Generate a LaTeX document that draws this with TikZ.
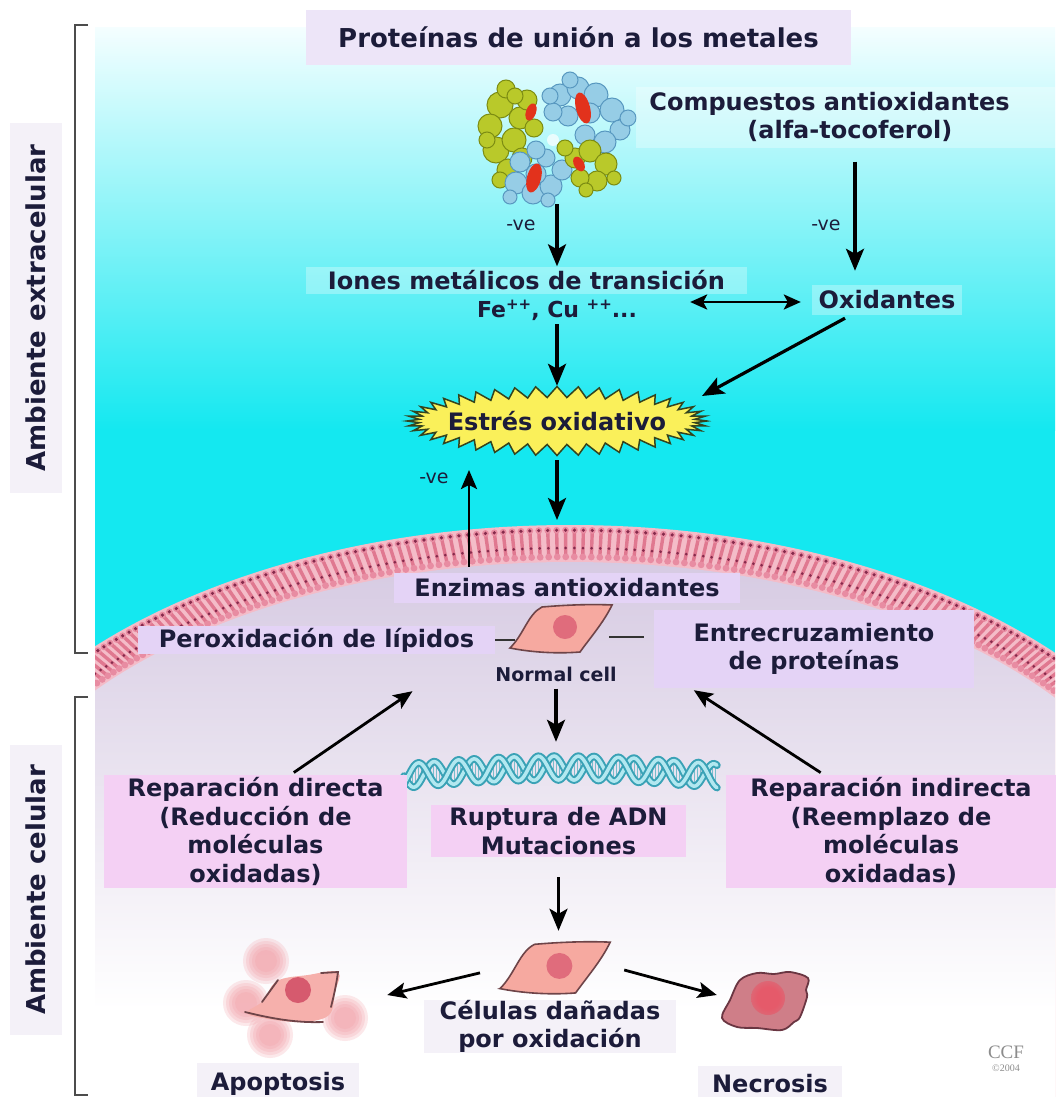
\documentclass[tikz,border=0pt]{standalone}
\usepackage{fontspec}
\setmainfont{DejaVu Sans}
\newfontfamily\serf{Liberation Serif}
\usetikzlibrary{arrows.meta,calc,shapes.geometric}

\definecolor{ink}{HTML}{1C1C3A}
\definecolor{cyanbg}{HTML}{14E8F0}
\definecolor{cyantop}{HTML}{F4FEFF}
\definecolor{lav}{HTML}{D6CAE2}
\definecolor{boxlav}{HTML}{E4D3F6}
\definecolor{boxpink}{HTML}{F4D0F4}
\definecolor{titlebox}{HTML}{EDE5F8}
\definecolor{faintbox}{HTML}{F4F1F8}
\definecolor{membpink}{HTML}{F4BCC8}
\definecolor{lipid}{HTML}{E07890}
\definecolor{headpink}{HTML}{E88CA2}
\definecolor{lipidhead}{HTML}{862A4C}
\definecolor{cellfill}{HTML}{F6A9A0}
\definecolor{celledge}{HTML}{6E4448}
\definecolor{nucleus}{HTML}{E06C7C}
\definecolor{starfill}{HTML}{FAF05A}
\definecolor{staredge}{HTML}{34441E}
\definecolor{protY}{HTML}{B9C92A}
\definecolor{protYe}{HTML}{7C8C12}
\definecolor{protB}{HTML}{96CDE6}
\definecolor{protBe}{HTML}{5898C0}
\definecolor{protR}{HTML}{E2321C}
\definecolor{dnaE}{HTML}{3AA2B6}
\definecolor{dnaF}{HTML}{B2E8F0}
\definecolor{apop}{HTML}{F29AA2}
\definecolor{apopbody}{HTML}{F6B0AC}
\definecolor{apopnuc}{HTML}{D65A6E}
\definecolor{necro}{HTML}{CF7E88}
\definecolor{necroE}{HTML}{6A3642}
\definecolor{necnucC}{HTML}{E55A6A}

\pgfdeclareradialshading{necnuc}{\pgfpoint{0bp}{0bp}}{color(0bp)=(necnucC); color(16bp)=(necnucC); color(42bp)=(necro); color(50bp)=(necro)}

\newcommand\pplus{\raisebox{8pt}{\fontsize{15}{15}\selectfont ++}}

\tikzset{
  normcell/.pic={
    \draw[fill=cellfill, draw=celledge, line width=1.6pt]
      (-50,20) .. controls (-36,6) and (-32,-14) .. (-18,-21)
      .. controls (5,-23) and (30,-24) .. (52,-23)
      .. controls (44,-6) and (30,10) .. (20,24)
      .. controls (-5,26) and (-30,24) .. cycle;
    \fill[nucleus] (5,-1) circle[radius=12];
  },
  apopcell/.pic={
    % soft blebs budding off the dying cell
    \foreach \bx/\by in {-27/-36, -47/6, 52/21, -23/38}
      \foreach \rr in {23,20,17,14,11}
        \fill[apop, opacity=0.22] (\bx,\by) circle[radius=\rr];
    \fill[apopbody] plot[smooth cycle, tension=0.6] coordinates
      {(-46,16) (-30,4) (-16,-16) (15,-22) (45,-25) (42,-5) (36,18) (10,25) (-25,22)};
    \draw[celledge, line width=1.8pt, line cap=round] (-31,5) -- (-15,-17);
    \draw[celledge, line width=1.8pt, line cap=round] (28,-24) -- (45,-25) .. controls (43,-10) and (40,2) .. (38,10);
    \draw[celledge, line width=1.8pt, line cap=round] (-48,15) .. controls (-20,22) and (5,26) .. (30,25);
    \fill[apopnuc] (5,-7) circle[radius=13];
  },
  necrocell/.pic={
    \draw[fill=necro, draw=necroE, line width=1.8pt] plot[smooth cycle, tension=0.55] coordinates
      {(-44,18) (-36,0) (-26,-20) (-9,-27) (8,-26) (24,-28) (42,-22) (40,-10) (41,-3) (34,17) (28,22) (16,30) (-9,28) (-29,27)};
    \shade[shading=necnuc] (2,-2) circle[radius=17];
  }
}

\begin{document}
\begin{tikzpicture}[x=1pt,y=-1pt,
  lbl/.style={font=\fontsize{24}{28.5}\selectfont\bfseries, text=ink, align=center, inner sep=0pt},
  arr/.style={draw=black, line width=3.2pt, -{Stealth[length=22pt,width=18pt,inset=5pt]}},
  thinarr/.style={draw=black, line width=2.8pt, -{Stealth[length=19pt,width=16pt,inset=4pt]}},
  darr/.style={draw=black, line width=2.8pt, {Stealth[length=17pt,width=15pt,inset=4pt]}-{Stealth[length=17pt,width=15pt,inset=4pt]}},
  neg/.style={font=\fontsize{19}{19}\selectfont, text=ink, inner sep=0pt},
  tie/.style={draw=black!80, line width=2.5pt},
  side/.style={font=\fontsize{26}{26}\selectfont\bfseries, text=ink, rotate=90, inner sep=0pt, fill=faintbox},
  bracket/.style={draw=black!70, line width=2.5pt},
  glass/.style={fill=white, fill opacity=0.3, inner sep=0pt}
]
\useasboundingbox (0,0) rectangle (1055,1097);
\fill[white] (0,0) rectangle (1055,1097);

% extracellular medium
\shade[top color=cyantop, bottom color=cyanbg] (95,28) rectangle (1055,430);
\fill[cyanbg] (95,429) rectangle (1055,720);

% cell: membrane band, interior, lipids
\begin{scope}
  \clip (95,0) rectangle (1055,1097);
  \fill[membpink] (570,900) ellipse [x radius=645, y radius=375];
  \begin{scope}
    \clip (570,900) ellipse [x radius=605, y radius=338];
    \shade[top color=lav, middle color=lav!65!white, bottom color=white] (95,560) rectangle (1055,1010);
    \fill[white] (95,1009) rectangle (1055,1097);
  \end{scope}
  \foreach \t in {28,28.8,...,152}{
    \path ({570+645*cos(\t)},{900-375*sin(\t)}) coordinate (lo)
          ({570+605*cos(\t)},{900-338*sin(\t)}) coordinate (li);
    \draw[lipid, line width=3.4pt] ($(lo)!0.2!(li)$) -- ($(lo)!0.8!(li)$);
    \fill[headpink] ($(lo)!0.14!(li)$) circle[radius=3.4];
    \fill[headpink] ($(lo)!0.86!(li)$) circle[radius=3.4];
    \fill[lipidhead] ($(lo)!0.14!(li)$) circle[radius=1.8];
    \fill[lipidhead] ($(lo)!0.62!(li)$) circle[radius=1.5];
  }
\end{scope}

% side brackets and labels
\draw[bracket] (88,25) -- (75,25) -- (75,653) -- (88,653);
\draw[bracket] (88,697) -- (75,697) -- (75,1095) -- (88,1095);
\node[side, minimum width=370pt, minimum height=52pt] (amb1) at (36,308) {Ambiente extracelular};
\node[side, minimum width=290pt, minimum height=52pt] (amb2) at (36,890) {Ambiente celular};

% title
\node[lbl, fill=titlebox, minimum width=545pt, minimum height=55pt,
      font=\fontsize{26}{30}\selectfont\bfseries] (title) at (578.5,37.5) {Proteínas de unión a los metales};

% metal-binding protein
\node[minimum width=150pt, minimum height=124pt, inner sep=0pt] (prot) at (557,142) {};
\foreach \px/\py/\r in {500/105/13, 490/126/12, 496/150/13, 508/170/11, 520/118/11, 514/140/12, 527/100/10, 534/128/9, 506/89/9, 522/158/10, 487/140/8, 515/96/8, 500/180/8}
  \filldraw[fill=protY, draw=protYe, line width=1pt] (\px,\py) circle[radius=\r];
\foreach \px/\py/\r in {560/95/11, 578/88/11, 596/95/12, 612/110/12, 620/130/10, 605/142/11, 585/135/10, 568/116/10, 553/112/9, 590/113/10, 570/80/8, 628/118/8, 550/96/8}
  \filldraw[fill=protB, draw=protBe, line width=1pt] (\px,\py) circle[radius=\r];
\foreach \px/\py/\r in {520/162/10, 516/183/11, 533/193/11, 551/186/11, 562/170/10, 546/158/9, 536/150/9, 536/174/10, 510/197/7, 548/200/7}
  \filldraw[fill=protB, draw=protBe, line width=1pt] (\px,\py) circle[radius=\r];
\foreach \px/\py/\r in {575/158/10, 590/151/11, 606/164/11, 597/181/10, 580/178/9, 565/148/8, 614/178/7, 586/190/7}
  \filldraw[fill=protY, draw=protYe, line width=1pt] (\px,\py) circle[radius=\r];
\fill[protR, rotate around={-20:(531,112)}] (531,112) ellipse [x radius=5, y radius=9];
\fill[protR, rotate around={15:(583,108)}] (583,108) ellipse [x radius=7, y radius=16];
\fill[protR, rotate around={-15:(534,178)}] (534,178) ellipse [x radius=7, y radius=15];
\fill[protR, rotate around={30:(579,164)}] (579,164) ellipse [x radius=5, y radius=8];
\fill[white, opacity=0.7] (553,140) circle[radius=6];

% antioxidant compounds
\node[glass, minimum width=419pt, minimum height=60pt] (compbox) at (845.5,117.5) {};
\node[lbl, align=left] (comp) at (829.5,117) {Compuestos antioxidantes\\\hspace*{98pt}(alfa-tocoferol)};

% transition metal ions and oxidants
\node[lbl, glass, text opacity=1, minimum width=441pt, minimum height=27pt] (iones) at (526.5,280) {Iones metálicos de transición};
\node[lbl, font=\fontsize{22}{22}\selectfont\bfseries] (fe) at (557,310) {Fe\pplus, Cu \pplus...};
\node[lbl, glass, text opacity=1, minimum width=150pt, minimum height=30pt] (oxid) at (887,300) {Oxidantes};

\node[neg] (ve1) at (521,225) {-ve};
\node[neg] (ve2) at (826,225) {-ve};
\node[neg] (ve3) at (434,478) {-ve};

% oxidative stress burst
\filldraw[fill=starfill, draw=staredge, line width=1.5pt]
  plot[samples=89, domain=0:360, variable=\a]
  ({557+(144+6*cos(44*\a))*cos(\a)}, {421+(29+5.5*cos(44*\a))*sin(\a)}) -- cycle;
\node[lbl, ellipse, minimum width=300pt, minimum height=68pt] (stress) at (557,421) {Estrés oxidativo};
\coordinate (starNE) at (702,396);
\coordinate (memtop) at (557,520);
\coordinate (vetip) at (469,470);

% labels inside the cell
\node[lbl, fill=boxlav, minimum width=346pt, minimum height=30pt] (enz) at (567,588) {Enzimas antioxidantes};
\node[lbl, fill=boxlav, minimum width=357pt, minimum height=28pt] (perox) at (316.5,640) {Peroxidación de lípidos};
\node[lbl, fill=boxlav, minimum width=320pt, minimum height=78pt] (entr) at (814,649) {Entrecruzamiento\\de proteínas};

% normal cell
\pic at (560,628) {normcell};
\node[minimum width=90pt, minimum height=46pt, inner sep=0pt] (ncell) at (560,628) {};
\node[font=\fontsize{19}{19}\selectfont\bfseries, text=ink, inner sep=1pt] (ncl) at (556,674) {Normal cell};

% DNA double helix
\node[minimum width=313pt, minimum height=26pt, inner sep=0pt] (dna) at (560,775) {};
\foreach \u in {406,409,...,716}
  \draw[dnaE!70, line width=1pt]
    (\u, {776-8*sin(0.575*(\u-404))+12*sin(9*(\u-404))}) --
    (\u, {776-8*sin(0.575*(\u-404))+12*sin(9*(\u-404)+140)});
\foreach \ph in {0,140}{
  \draw[dnaE, line width=7.5pt, line cap=round] plot[domain=404:717, samples=220, smooth]
    (\x, {776-8*sin(0.575*(\x-404))+12*sin(9*(\x-404)+\ph)});
  \draw[dnaF, line width=3.5pt, line cap=round] plot[domain=404:717, samples=220, smooth]
    (\x, {776-8*sin(0.575*(\x-404))+12*sin(9*(\x-404)+\ph)});
}

% repair and damage boxes
\node[lbl, fill=boxpink, minimum width=303pt, minimum height=113pt] (repd) at (255.5,831.5)
  {Reparación directa\\(Reducción de\\moléculas\\oxidadas)};
\node[lbl, fill=boxpink, minimum width=255pt, minimum height=52pt] (rupt) at (558.5,831)
  {Ruptura de ADN\\Mutaciones};
\node[lbl, fill=boxpink, minimum width=330pt, minimum height=113pt] (repi) at (891,831.5)
  {Reparación indirecta\\(Reemplazo de\\moléculas\\oxidadas)};

% damaged cell and its fates
\pic[scale=1.08] at (554,967) {normcell};
\node[minimum width=100pt, minimum height=48pt, inner sep=0pt] (dcell) at (554,967) {};
\pic at (293,997) {apopcell};
\node[minimum width=100pt, minimum height=60pt, inner sep=0pt] (apcell) at (293,997) {};
\pic at (766,1000) {necrocell};
\node[minimum width=90pt, minimum height=60pt, inner sep=0pt] (necell) at (766,1000) {};

\node[lbl, fill=faintbox, minimum width=252pt, minimum height=53pt] (damaged) at (550,1026.5)
  {Células dañadas\\por oxidación};
\node[lbl, fill=faintbox, inner xsep=14pt, inner ysep=9pt] (apop) at (278,1084) {Apoptosis};
\node[lbl, fill=faintbox, inner xsep=14pt, inner ysep=9pt] (necr) at (770,1084) {Necrosis};

\node[font=\serf\fontsize{19}{19}\selectfont, text=black!45, inner sep=0pt] (ccf) at (1006,1052) {CCF};
\node[font=\serf\fontsize{10}{10}\selectfont, text=black!45, inner sep=0pt] (yr) at (1006,1068) {©2004};

% connectors
\draw[arr] (prot.south) -- (prot.south |- iones.north);
\draw[arr, shorten <=14pt, shorten >=14pt] ([xshift=9.5pt]compbox.south) -- ([xshift=9.5pt]compbox.south |- oxid.north);
\draw[darr, shorten <=53pt, shorten >=11pt] ($(fe.east |- oxid.west)+(0,2)$) -- ($(oxid.west)+(0,2)$);
\draw[arr, shorten <=4pt, shorten >=1pt] (fe.south) -- (fe.south |- stress.north);
\draw[arr] ([xshift=-42pt,yshift=-3pt]oxid.south) -- (starNE);
\draw[arr, shorten <=5pt] (stress.south) -- (memtop);
\draw[thinarr, shorten <=6pt] (vetip |- enz.north) -- (vetip);
\draw[tie] (perox.east) -- (perox.east -| ncell.west);
\draw[tie, shorten <=4pt, shorten >=10pt] ($(ncell.east |- entr.west)+(0,-12)$) -- ($(entr.west)+(0,-12)$);
\draw[arr, shorten <=6pt, shorten >=20pt] (ncl.south) -- (ncl.south |- dna.north);
\draw[thinarr, shorten <=4pt] ([xshift=35pt]repd.north) -- ([xshift=96pt,yshift=-37pt]perox.south);
\draw[thinarr, shorten <=4pt] ([xshift=-67pt]repi.north) -- ([xshift=40pt,yshift=-2pt]entr.south west);
\draw[arr, shorten <=20pt, shorten >=12pt] (rupt.south) -- (rupt.south |- dcell.north);
\draw[thinarr, shorten <=8pt] ($(dcell.west)+(-16,4)$) -- ($(apcell.east)+(44,-2)$);
\draw[thinarr] ([xshift=20pt,yshift=-3pt]dcell.east) -- ([xshift=-4pt,yshift=5pt]necell.west);
\end{tikzpicture}
\end{document}
